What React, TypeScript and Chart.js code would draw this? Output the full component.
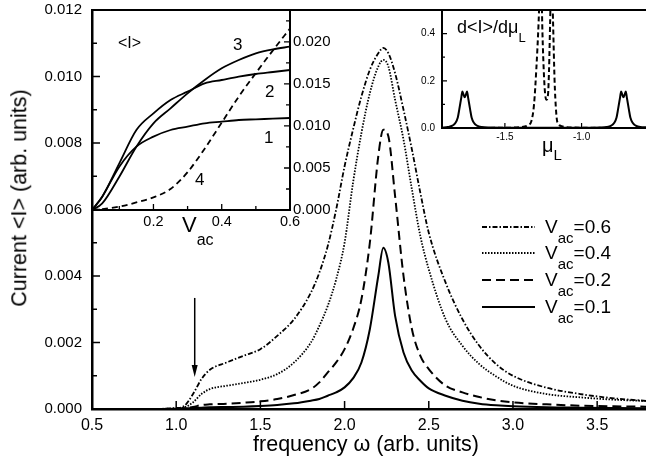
import React, { useEffect, useRef } from "react";
import { Chart, registerables } from "chart.js";
Chart.register(...registerables);

const FONT = '"Liberation Sans", Arial, Helvetica, sans-serif';

// ---------------- main panel data ----------------
const omega = [0.5, 0.8, 1.0, 1.05, 1.1, 1.15, 1.2, 1.3, 1.4, 1.5, 1.6, 1.7, 1.8, 1.85, 1.9, 1.95, 2.0, 2.05, 2.1, 2.15, 2.2, 2.23, 2.26, 2.3, 2.35, 2.4, 2.45, 2.5, 2.6, 2.7, 2.8, 2.9, 3.0, 3.2, 3.4, 3.6, 3.8];
const iVac06 = [0, 0, 0.00003, 0.0001, 0.00045, 0.0009, 0.00118, 0.0014, 0.0016, 0.0018, 0.0022, 0.0027, 0.0035, 0.0041, 0.0049, 0.006, 0.0073, 0.0084, 0.0094, 0.0102, 0.0107, 0.01086, 0.0107, 0.0101, 0.009, 0.0078, 0.0065, 0.0053, 0.0038, 0.0027, 0.0019, 0.00135, 0.001, 0.00064, 0.00045, 0.00032, 0.00024];
const iVac04 = [0, 0, 0.00002, 0.00005, 0.0002, 0.00045, 0.0006, 0.0007, 0.00078, 0.00088, 0.00105, 0.0014, 0.002, 0.0025, 0.0031, 0.0039, 0.005, 0.0068, 0.0083, 0.0095, 0.0103, 0.0105, 0.0103, 0.0093, 0.0081, 0.0066, 0.0052, 0.0042, 0.0027, 0.0019, 0.00135, 0.00098, 0.0007, 0.00045, 0.00035, 0.00028, 0.00024];
const iVac02 = [0, 0, 0.00001, 0.00002, 0.00006, 0.00012, 0.00014, 0.00016, 0.00019, 0.00023, 0.0003, 0.00042, 0.0006, 0.0008, 0.0011, 0.0014, 0.0018, 0.0024, 0.0033, 0.005, 0.0076, 0.0084, 0.0082, 0.0064, 0.004, 0.0024, 0.0016, 0.0012, 0.0007, 0.0005, 0.00036, 0.00026, 0.0002, 0.00014, 0.0001, 0.00008, 0.00007];
const iVac01 = [0, 0, 0.00001, 0.00002, 0.00003, 0.00004, 0.00005, 0.00006, 0.00007, 0.00009, 0.00012, 0.00017, 0.00025, 0.0003, 0.0004, 0.0005, 0.00065, 0.00092, 0.0014, 0.0024, 0.004, 0.00485, 0.0044, 0.0028, 0.0017, 0.00115, 0.00085, 0.00062, 0.0004, 0.00025, 0.00016, 0.00011, 0.00008, 0.00005, 0.00004, 0.00003, 0.00002];
const vacLabels = ["0.6", "0.4", "0.2", "0.1"];
const mainXTicks = [0.5, 1.0, 1.5, 2.0, 2.5, 3.0, 3.5];
const mainYTicks = [0, 0.002, 0.004, 0.006, 0.008, 0.01, 0.012];
const mainYMinor = [0.001, 0.003, 0.005, 0.007, 0.009, 0.011];
const arrowOmega = 1.11;
const arrowFrom = 0.00334;
const arrowTo = 0.00096;

// ---------------- inset 1 data ----------------
const vac = [0.02, 0.05, 0.1, 0.15, 0.2, 0.25, 0.3, 0.35, 0.4, 0.45, 0.5, 0.55, 0.6];
const curve1 = [0.006, 0.0064, 0.0073, 0.0079, 0.0082, 0.0084, 0.0085, 0.0086, 0.00865, 0.0087, 0.00872, 0.00874, 0.00876];
const curve2 = [0.006, 0.0064, 0.0074, 0.0084, 0.0089, 0.0093, 0.00955, 0.0098, 0.0099, 0.01, 0.01008, 0.01014, 0.0102];
const curve3 = [0.006, 0.0062, 0.007, 0.0079, 0.0086, 0.00905, 0.0095, 0.0099, 0.01025, 0.0105, 0.0107, 0.01082, 0.0109];
const curve4 = [0, 0.0001, 0.0004, 0.0009, 0.0015, 0.0025, 0.0045, 0.0073, 0.0104, 0.0135, 0.0163, 0.019, 0.0216];
const inset1XTicks = [0.2, 0.4, 0.6];
const inset1XMinor = [0.1, 0.3, 0.5];
const inset1RTicks = [0, 0.005, 0.01, 0.015, 0.02];
const inset1RMinor = [0.0025, 0.0075, 0.0125, 0.0175, 0.0225];

// ---------------- inset 2 data ----------------
const muSolid = [-1.91, -1.872, -1.842, -1.822, -1.807, -1.797, -1.784, -1.777, -1.769, -1.762, -1.755, -1.747, -1.74, -1.727, -1.717, -1.702, -1.682, -1.652, -1.6, -1.4, -1.0, -0.88, -0.837, -0.807, -0.787, -0.772, -0.762, -0.749, -0.742, -0.734, -0.727, -0.72, -0.712, -0.705, -0.692, -0.682, -0.667, -0.647, -0.617, -0.58];
const dSolid = [0.001, 0.004, 0.01, 0.022, 0.045, 0.08, 0.13, 0.155, 0.14, 0.13, 0.14, 0.155, 0.13, 0.08, 0.045, 0.022, 0.01, 0.004, 0.002, 0.001, 0.001, 0.002, 0.004, 0.01, 0.022, 0.045, 0.08, 0.13, 0.155, 0.14, 0.13, 0.14, 0.155, 0.13, 0.08, 0.045, 0.022, 0.01, 0.004, 0.003];
const muDashed = [-1.91, -1.5, -1.4, -1.35, -1.327, -1.31, -1.295, -1.28, -1.266, -1.255, -1.245, -1.237, -1.228, -1.219, -1.212, -1.205, -1.196, -1.186, -1.176, -1.166, -1.158, -1.13, -1.05, -0.58];
const dDashed = [0, 0.001, 0.004, 0.012, 0.03, 0.1, 0.25, 0.45, 0.7, 0.4, 0.22, 0.14, 0.12, 0.14, 0.25, 0.45, 0.7, 0.45, 0.2, 0.07, 0.025, 0.008, 0.002, 0];
const inset2XTicks = [-1.5, -1.0];
const inset2YTicks = [0, 0.2, 0.4];
const inset2YMinor = [0.1, 0.3];

// ---------------- styles ----------------
const lineStyle: Record<string, { dash: number[]; width: number }> = {
  "0.6": { dash: [5, 2, 1.5, 2], width: 1.8 },
  "0.4": { dash: [1.5, 1.5], width: 1.8 },
  "0.2": { dash: [9, 5], width: 2 },
  "0.1": { dash: [], width: 2 },
};
const legendX0 = 482;
const legendX1 = 535;
const legendRows = [227, 253, 280, 307];
const legendBase = [233, 259, 286, 313];

const inTicks = {
  id: "inTicks",
  afterDatasetsDraw(chart: any, _a: any, opts: any) {
    const { ctx, chartArea: ca } = chart;
    ctx.save();
    ctx.strokeStyle = "#000";
    ctx.setLineDash([]);
    for (const spec of opts.specs || []) {
      const sc = chart.scales[spec.scale];
      ctx.lineWidth = spec.width || 1.5;
      ctx.beginPath();
      for (const v of spec.values) {
        const p = sc.getPixelForValue(v);
        if (spec.side === "bottom") {
          ctx.moveTo(p, ca.bottom);
          ctx.lineTo(p, ca.bottom - spec.len);
        } else if (spec.side === "left") {
          ctx.moveTo(ca.left, p);
          ctx.lineTo(ca.left + spec.len, p);
        } else {
          ctx.moveTo(ca.right, p);
          ctx.lineTo(ca.right - spec.len, p);
        }
      }
      ctx.stroke();
    }
    if (opts.topBorder) {
      ctx.lineWidth = opts.topBorder;
      ctx.beginPath();
      ctx.moveTo(ca.left - 1, ca.top);
      ctx.lineTo(ca.right, ca.top);
      ctx.stroke();
    }
    ctx.restore();
  },
};

const mainDeco = {
  id: "mainDeco",
  afterDatasetsDraw(chart: any) {
    const { ctx } = chart;
    const xs = chart.scales.x;
    const ys = chart.scales.y;
    ctx.save();
    ctx.strokeStyle = "#000";
    ctx.fillStyle = "#000";
    // arrow
    const ax = xs.getPixelForValue(arrowOmega);
    const ay0 = ys.getPixelForValue(arrowFrom);
    const ay1 = ys.getPixelForValue(arrowTo);
    ctx.lineWidth = 1.5;
    ctx.setLineDash([]);
    ctx.beginPath();
    ctx.moveTo(ax, ay0);
    ctx.lineTo(ax, ay1 - 8);
    ctx.stroke();
    ctx.beginPath();
    ctx.moveTo(ax, ay1);
    ctx.lineTo(ax - 3, ay1 - 12);
    ctx.lineTo(ax + 3, ay1 - 12);
    ctx.closePath();
    ctx.fill();
    // legend samples
    vacLabels.forEach((lab, i) => {
      const st = lineStyle[lab];
      ctx.lineWidth = st.width;
      ctx.setLineDash(st.dash);
      ctx.beginPath();
      ctx.moveTo(legendX0, legendRows[i]);
      ctx.lineTo(legendX1, legendRows[i]);
      ctx.stroke();
    });
    ctx.restore();
  },
};

function fixedScale(size: number, horizontal: boolean) {
  return (s: any) => {
    if (horizontal) s.height = size;
    else s.width = size;
    s.paddingLeft = 0;
    s.paddingRight = 0;
    s.paddingTop = 0;
    s.paddingBottom = 0;
  };
}
function setTicks(values: number[]) {
  return (s: any) => {
    s.ticks = values.map((v) => ({ value: v }));
  };
}

function useChart(ref: React.RefObject<HTMLCanvasElement>, make: () => any) {
  useEffect(() => {
    if (!ref.current) return;
    const c = new Chart(ref.current, make());
    return () => c.destroy();
  }, []);
}

function mainConfig() {
  const series: Record<string, number[]> = { "0.6": iVac06, "0.4": iVac04, "0.2": iVac02, "0.1": iVac01 };
  return {
    type: "line",
    data: {
      datasets: vacLabels.map((lab) => ({
        label: "Vac=" + lab,
        data: omega.map((w, i) => ({ x: w, y: series[lab][i] })),
        borderColor: "#000",
        borderWidth: lineStyle[lab].width,
        borderDash: lineStyle[lab].dash,
        borderCapStyle: "butt",
        pointRadius: 0,
        fill: false,
        cubicInterpolationMode: "monotone",
      })),
    },
    options: {
      responsive: false,
      animation: false,
      layout: { padding: { top: 10, left: 0, right: 0, bottom: 0 } },
      plugins: {
        legend: { display: false },
        tooltip: { enabled: false },
        inTicks: {
          specs: [
            { scale: "y", side: "left", values: mainYTicks, len: 8, width: 1.5 },
            { scale: "y", side: "left", values: mainYMinor, len: 5, width: 1.5 },
            { scale: "x", side: "bottom", values: mainXTicks, len: 8, width: 1.5 },
          ],
          topBorder: 2,
        },
      },
      scales: {
        x: {
          type: "linear",
          min: 0.5,
          max: 3.79,
          grid: { display: false, drawTicks: false },
          border: { display: true, width: 2.5, color: "#000" },
          ticks: { padding: 7, color: "#000", font: { family: FONT, size: 16 }, maxRotation: 0, autoSkip: false, callback: (v: any) => Number(v).toFixed(1) },
          afterBuildTicks: setTicks(mainXTicks),
          afterFit: fixedScale(57, true),
        },
        y: {
          type: "linear",
          min: 0,
          max: 0.012,
          grid: { display: false, drawTicks: false },
          border: { display: true, width: 2.5, color: "#000" },
          ticks: { padding: 10, color: "#000", font: { family: FONT, size: 15 }, autoSkip: false, callback: (v: any) => Number(v).toFixed(3) },
          afterBuildTicks: setTicks(mainYTicks),
          afterFit: fixedScale(92, false),
        },
      },
    },
    plugins: [inTicks, mainDeco],
  };
}

function inset1Config() {
  const mk = (vals: number[], axis: string, dash: number[]) => ({
    data: vac.map((v, i) => ({ x: v, y: vals[i] })),
    yAxisID: axis,
    borderColor: "#000",
    borderWidth: 1.8,
    borderDash: dash,
    pointRadius: 0,
    fill: false,
    cubicInterpolationMode: "monotone",
  });
  return {
    type: "line",
    data: {
      datasets: [mk(curve1, "yl", []), mk(curve2, "yl", []), mk(curve3, "yl", []), mk(curve4, "yr", [6, 4])],
    },
    options: {
      responsive: false,
      animation: false,
      layout: { padding: { top: 10, left: 32, right: 0, bottom: 0 } },
      plugins: {
        legend: { display: false },
        tooltip: { enabled: false },
        inTicks: {
          specs: [
            { scale: "x", side: "bottom", values: inset1XTicks, len: 6, width: 1.3 },
            { scale: "x", side: "bottom", values: inset1XMinor, len: 4, width: 1.3 },
            { scale: "yr", side: "right", values: inset1RTicks, len: 6, width: 1.3 },
            { scale: "yr", side: "right", values: inset1RMinor, len: 4, width: 1.3 },
          ],
        },
      },
      scales: {
        x: {
          type: "linear",
          min: 0.02,
          max: 0.6,
          grid: { display: false, drawTicks: false },
          border: { display: true, width: 2, color: "#000" },
          ticks: { padding: 3, color: "#000", font: { family: FONT, size: 14.5 }, maxRotation: 0, autoSkip: false, callback: (v: any) => Number(v).toFixed(1) },
          afterBuildTicks: setTicks(inset1XTicks),
          afterFit: fixedScale(40, true),
        },
        yl: { type: "linear", position: "left", display: false, min: 0.006, max: 0.012 },
        yr: {
          type: "linear",
          position: "right",
          min: 0,
          max: 0.0238,
          grid: { display: false, drawTicks: false },
          border: { display: true, width: 2, color: "#000" },
          ticks: { padding: 3, color: "#000", font: { family: FONT, size: 15 }, autoSkip: false, callback: (v: any) => Number(v).toFixed(3) },
          afterBuildTicks: setTicks(inset1RTicks),
          afterFit: fixedScale(70, false),
        },
      },
    },
    plugins: [inTicks],
  };
}

function inset2Config() {
  return {
    type: "line",
    data: {
      datasets: [
        {
          data: muSolid.map((m, i) => ({ x: m, y: dSolid[i] })),
          borderColor: "#000",
          borderWidth: 2,
          pointRadius: 0,
          fill: false,
          cubicInterpolationMode: "monotone",
        },
        {
          data: muDashed.map((m, i) => ({ x: m, y: dDashed[i] })),
          borderColor: "#000",
          borderWidth: 2,
          borderDash: [5, 3],
          pointRadius: 0,
          fill: false,
          cubicInterpolationMode: "monotone",
        },
      ],
    },
    options: {
      responsive: false,
      animation: false,
      layout: { padding: { top: 10, left: 0, right: 0, bottom: 0 } },
      plugins: {
        legend: { display: false },
        tooltip: { enabled: false },
        inTicks: {
          specs: [
            { scale: "y", side: "left", values: inset2YTicks, len: 5, width: 1.2 },
            { scale: "y", side: "left", values: inset2YMinor, len: 3, width: 1.2 },
            { scale: "x", side: "bottom", values: inset2XTicks, len: 5, width: 1.2 },
          ],
        },
      },
      scales: {
        x: {
          type: "linear",
          min: -1.91,
          max: -0.58,
          grid: { display: false, drawTicks: false },
          border: { display: true, width: 2, color: "#000" },
          ticks: { padding: 3, color: "#000", font: { family: FONT, size: 10 }, maxRotation: 0, autoSkip: false, callback: (v: any) => Number(v).toFixed(1) },
          afterBuildTicks: setTicks(inset2XTicks),
          afterFit: fixedScale(42, true),
        },
        y: {
          type: "linear",
          min: 0,
          max: 0.5,
          grid: { display: false, drawTicks: false },
          border: { display: true, width: 2, color: "#000" },
          ticks: { padding: 7, color: "#000", font: { family: FONT, size: 10 }, autoSkip: false, callback: (v: any) => Number(v).toFixed(1) },
          afterBuildTicks: setTicks(inset2YTicks),
          afterFit: fixedScale(42, false),
        },
      },
    },
    plugins: [inTicks],
  };
}

function T(props: { x: number; base: number; size: number; center?: boolean; children: any }) {
  const { x, base, size, center, children } = props;
  return (
    <div
      style={{
        position: "absolute",
        left: x,
        top: base - 0.8465 * size,
        fontSize: size,
        lineHeight: `${size}px`,
        whiteSpace: "nowrap",
        transform: center ? "translateX(-50%)" : undefined,
        fontFamily: FONT,
        color: "#000",
      }}
    >
      {children}
    </div>
  );
}
function Sub(props: { size: number; off: number; children: any }) {
  return (
    <span style={{ fontSize: props.size, lineHeight: 1, position: "relative", top: props.off }}>{props.children}</span>
  );
}

export default function App() {
  const mainRef = useRef<HTMLCanvasElement>(null);
  const in1Ref = useRef<HTMLCanvasElement>(null);
  const in2Ref = useRef<HTMLCanvasElement>(null);
  useChart(mainRef, mainConfig);
  useChart(in1Ref, inset1Config);
  useChart(in2Ref, inset2Config);

  return (
    <div style={{ position: "absolute", left: 0, top: 0, width: 646, height: 466, background: "#fff", overflow: "hidden", fontFamily: FONT }}>
      <canvas ref={mainRef} width={646} height={466} style={{ position: "absolute", left: 0, top: 0, width: 646, height: 466 }} />
      <canvas ref={in1Ref} width={300} height={250} style={{ position: "absolute", left: 60, top: 0, width: 300, height: 250 }} />
      <canvas ref={in2Ref} width={246} height={170} style={{ position: "absolute", left: 400, top: 0, width: 246, height: 170 }} />

      {/* axis titles */}
      <div
        style={{
          position: "absolute",
          left: 20,
          top: 198,
          transform: "translate(-50%, -50%) rotate(-90deg)",
          fontSize: 21.5,
          lineHeight: "21.5px",
          whiteSpace: "nowrap",
          color: "#000",
        }}
      >
        {"Current <I> (arb. units)"}
      </div>
      <T x={366} base={452} size={21.5} center>
        {"frequency ω (arb. units)"}
      </T>

      {/* legend */}
      {vacLabels.map((lab, i) => (
        <T key={lab} x={545} base={legendBase[i]} size={19}>
          V<Sub size={15} off={10}>ac</Sub>={lab}
        </T>
      ))}

      {/* inset 1 labels */}
      <T x={118} base={49} size={16}>{"<I>"}</T>
      <T x={233} base={50} size={17}>3</T>
      <T x={265} base={97} size={17}>2</T>
      <T x={264} base={143} size={17}>1</T>
      <T x={195} base={185} size={17}>4</T>
      <T x={182} base={233} size={22}>
        V<Sub size={16} off={13}>ac</Sub>
      </T>

      {/* inset 2 labels */}
      <T x={457} base={33} size={18}>
        {"d<I>/dμ"}
        <Sub size={13} off={9}>L</Sub>
      </T>
      <T x={542} base={152} size={20}>
        μ<Sub size={15} off={8}>L</Sub>
      </T>
    </div>
  );
}
